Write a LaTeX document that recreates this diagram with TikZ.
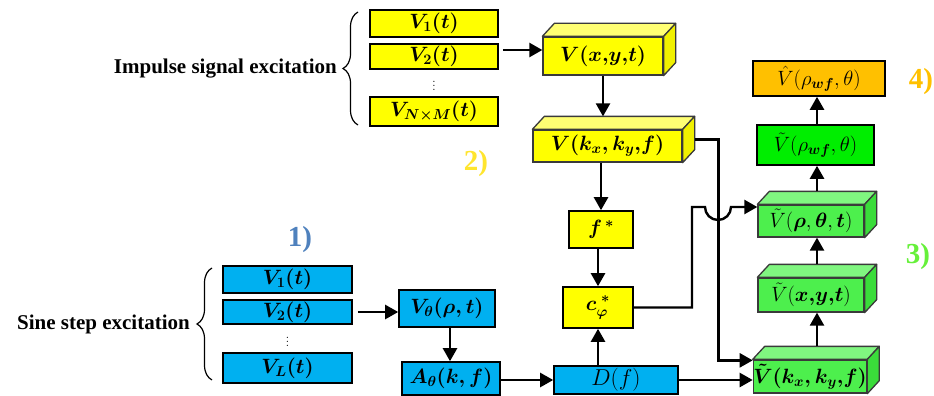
\RequirePackage{fix-cm}
\documentclass[tikz,border=0pt]{standalone}
\usepackage{amsmath}
\usepackage{fontspec}
\newfontfamily\labelfont{Liberation Serif}
\usetikzlibrary{arrows.meta,calc,decorations.pathreplacing}

\definecolor{ylw}{HTML}{FFFF00}
\definecolor{ylwTop}{HTML}{FFFF73}
\definecolor{ylwSide}{HTML}{F0F000}
\definecolor{blu}{HTML}{00B0F0}
\definecolor{grn}{HTML}{4DEF4D}
\definecolor{grnTop}{HTML}{80F680}
\definecolor{grnSide}{HTML}{3ADC3A}
\definecolor{grnFlat}{HTML}{00EE00}
\definecolor{orng}{HTML}{FFC000}
\definecolor{edge}{HTML}{3A3A3A}
\definecolor{lblBlue}{HTML}{4F81BD}
\definecolor{lblYellow}{HTML}{FFE52E}
\definecolor{lblGreen}{HTML}{66F03A}

\newcommand\bmath[1]{{\boldmath$#1$}}

% top and side faces of a box drawn as a cuboid
\newcommand\cuboidfaces[3]{%
  \draw[draw=edge, line width=1.3pt, line join=round, fill=#2]
    (#1.north west) -- ++(12pt,13pt) -- ([shift={(12pt,13pt)}]#1.north east)
    -- (#1.north east) -- cycle;
  \draw[draw=edge, line width=1.3pt, line join=round, fill=#3]
    (#1.north east) -- ++(12pt,13pt) -- ([shift={(12pt,13pt)}]#1.south east)
    -- (#1.south east) -- cycle;
  \coordinate (#1-top) at ([shift={(6pt,13pt)}]#1.north);
  \coordinate (#1-side) at ([shift={(12pt,6.5pt)}]#1.east);
}

\tikzset{
  boxtext/.style={font=\fontsize{20.7}{24}\selectfont},
  flat/.style={boxtext, draw=black, line width=1.6pt, inner sep=0pt},
  cube/.style={boxtext, draw=edge, line width=1.3pt, inner sep=0pt},
  dotsmark/.style={font=\fontsize{15}{15}\selectfont, inner sep=0pt},
  link/.style={line width=2.4pt},
  arr/.style={link, -{Triangle[length=13pt,width=14pt]}},
  bracket/.style={decorate, decoration={brace, amplitude=15pt}, line width=1.2pt},
  caption/.style={font=\labelfont\bfseries\fontsize{21}{24}\selectfont, inner sep=0pt},
  stage/.style={font=\labelfont\bfseries\fontsize{29}{32}\selectfont, inner sep=0pt},
}

\begin{document}
\begin{tikzpicture}[x=1pt, y=-1pt]
\useasboundingbox (0,0) rectangle (934,396);

% impulse signals
\node[flat, fill=ylw, minimum width=128pt, minimum height=27pt] (y1) at (434,23.5) {\bmath{V_1(t)}};
\node[flat, fill=ylw, minimum width=128pt, minimum height=25pt] (y2) at (434,56.5) {\bmath{V_2(t)}};
\node[dotsmark] (ydots) at (434,83) {$\vdots$};
\node[flat, fill=ylw, minimum width=128pt, minimum height=29pt] (yN) at (434,111.5) {\bmath{V_{N\times M}(t)}};
\draw[bracket] (358,125) -- (358,12);
\node[caption, anchor=east] (impulse) at (337,69) {Impulse signal excitation};

% sine step signals
\node[flat, fill=blu, minimum width=129pt, minimum height=27pt] (b1) at (287.5,279.5) {\bmath{V_1(t)}};
\node[flat, fill=blu, minimum width=129pt, minimum height=24pt] (b2) at (287.5,312) {\bmath{V_2(t)}};
\node[dotsmark] (bdots) at (287.5,339) {$\vdots$};
\node[flat, fill=blu, minimum width=129pt, minimum height=30pt] (bL) at (287.5,368) {\bmath{V_L(t)}};
\draw[bracket] (212,380) -- (212,268);
\node[caption, anchor=east] (sine) at (190,324) {Sine step excitation};

% processing chain
\node[cube, fill=ylw, minimum width=120pt, minimum height=38pt] (vxyt) at (603,56) {\bmath{V(x{,}y{,}t)}};
\cuboidfaces{vxyt}{ylwTop}{ylwSide}
\node[cube, fill=ylw, minimum width=149pt, minimum height=32pt] (vk) at (607.5,146) {\bmath{V(k_x,k_y{,}f)}};
\cuboidfaces{vk}{ylwTop}{ylwSide}
\node[flat, fill=ylw, minimum width=64pt, minimum height=37pt] (fs) at (601,229.5) {\bmath{f^{\,*}}};
\node[flat, fill=ylw, minimum width=70pt, minimum height=41pt] (cs) at (598,307.5) {\bmath{c_\varphi^{\;*}}};
\node[flat, fill=blu, minimum width=124pt, minimum height=28pt, font=\fontsize{23}{25}\selectfont] (Df) at (616,380) {$D(f)$};
\node[flat, fill=blu, minimum width=96pt, minimum height=37pt] (vth) at (447,308.5) {\bmath{V_\theta(\rho,t)}};
\node[flat, fill=blu, minimum width=98pt, minimum height=33pt] (ath) at (451,378.5) {\bmath{A_\theta(k,f)}};

\node[cube, fill=grn, minimum width=108pt, minimum height=33pt] (gk) at (810,376.5) {\bmath{\tilde V(k_x,k_y{,}f)}};
\cuboidfaces{gk}{grnTop}{grnSide}
\node[cube, fill=grn, minimum width=106pt, minimum height=34pt] (gxy) at (811,295) {$\tilde V(\boldsymbol{x{,}y{,}t})$};
\cuboidfaces{gxy}{grnTop}{grnSide}
\node[cube, fill=grn, minimum width=106pt, minimum height=32pt] (gpt) at (811,221) {$\tilde V(\boldsymbol{\rho},\boldsymbol{\theta},\boldsymbol{t})$};
\cuboidfaces{gpt}{grnTop}{grnSide}
\node[flat, fill=grnFlat, minimum width=117pt, minimum height=40pt] (gwf) at (815.5,145) {$\tilde V(\rho_{\boldsymbol{wf}},\theta)$};
\node[flat, fill=orng, minimum width=132pt, minimum height=35pt] (hat) at (819,78.5) {$\hat V(\rho_{\boldsymbol{wf}},\theta)$};

% stage labels
\node[stage, text=lblBlue] (s1) at (300,240) {1)};
\node[stage, text=lblYellow] (s2) at (476,164) {2)};
\node[stage, text=lblGreen] (s3) at (918,257) {3)};
\node[stage, text=orng] (s4) at (921,82) {4)};

% connectors
\draw[arr] ([xshift=4pt]y2.east |- 0,50) -- (vxyt.west |- 0,50);
\draw[arr] (vxyt.south -| 603,0) -- (vk-top -| 603,0);
\draw[arr] (fs.north |- vk.south) -- (fs.north);
\draw[arr] (fs.south -| cs.north) -- (cs.north);
\draw[arr] (cs.south |- Df.north) -- (cs.south);
\draw[arr] ([xshift=5pt]b2.east) -- (vth.west |- b2.east);
\draw[arr] (vth.south -| 450,0) -- (ath.north -| 450,0);
\draw[arr] (ath.east |- Df.west) -- (Df.west);
\draw[arr] (Df.east) -- (Df.east -| gk.west);
\draw[arr] (vk-side) -- ++(24,0) |- ([yshift=-1pt]gk.north west);
\coordinate (cross) at (718,207);
\draw[arr] (cs.east) -| ([xshift=-26pt]cross) -- ([xshift=-13pt]cross)
  arc[start angle=180, end angle=360, radius=13pt] -- (gpt.west |- cross);
\draw[arr] (gk-top -| 817,0) -- (gxy.south -| 817,0);
\draw[arr] (gxy-top -| 817,0) -- (gpt.south -| 817,0);
\draw[arr] (gpt-top -| 817,0) -- (gwf.south -| 817,0);
\draw[arr] (gwf.north -| 817,0) -- (hat.south -| 817,0);
\end{tikzpicture}
\end{document}
